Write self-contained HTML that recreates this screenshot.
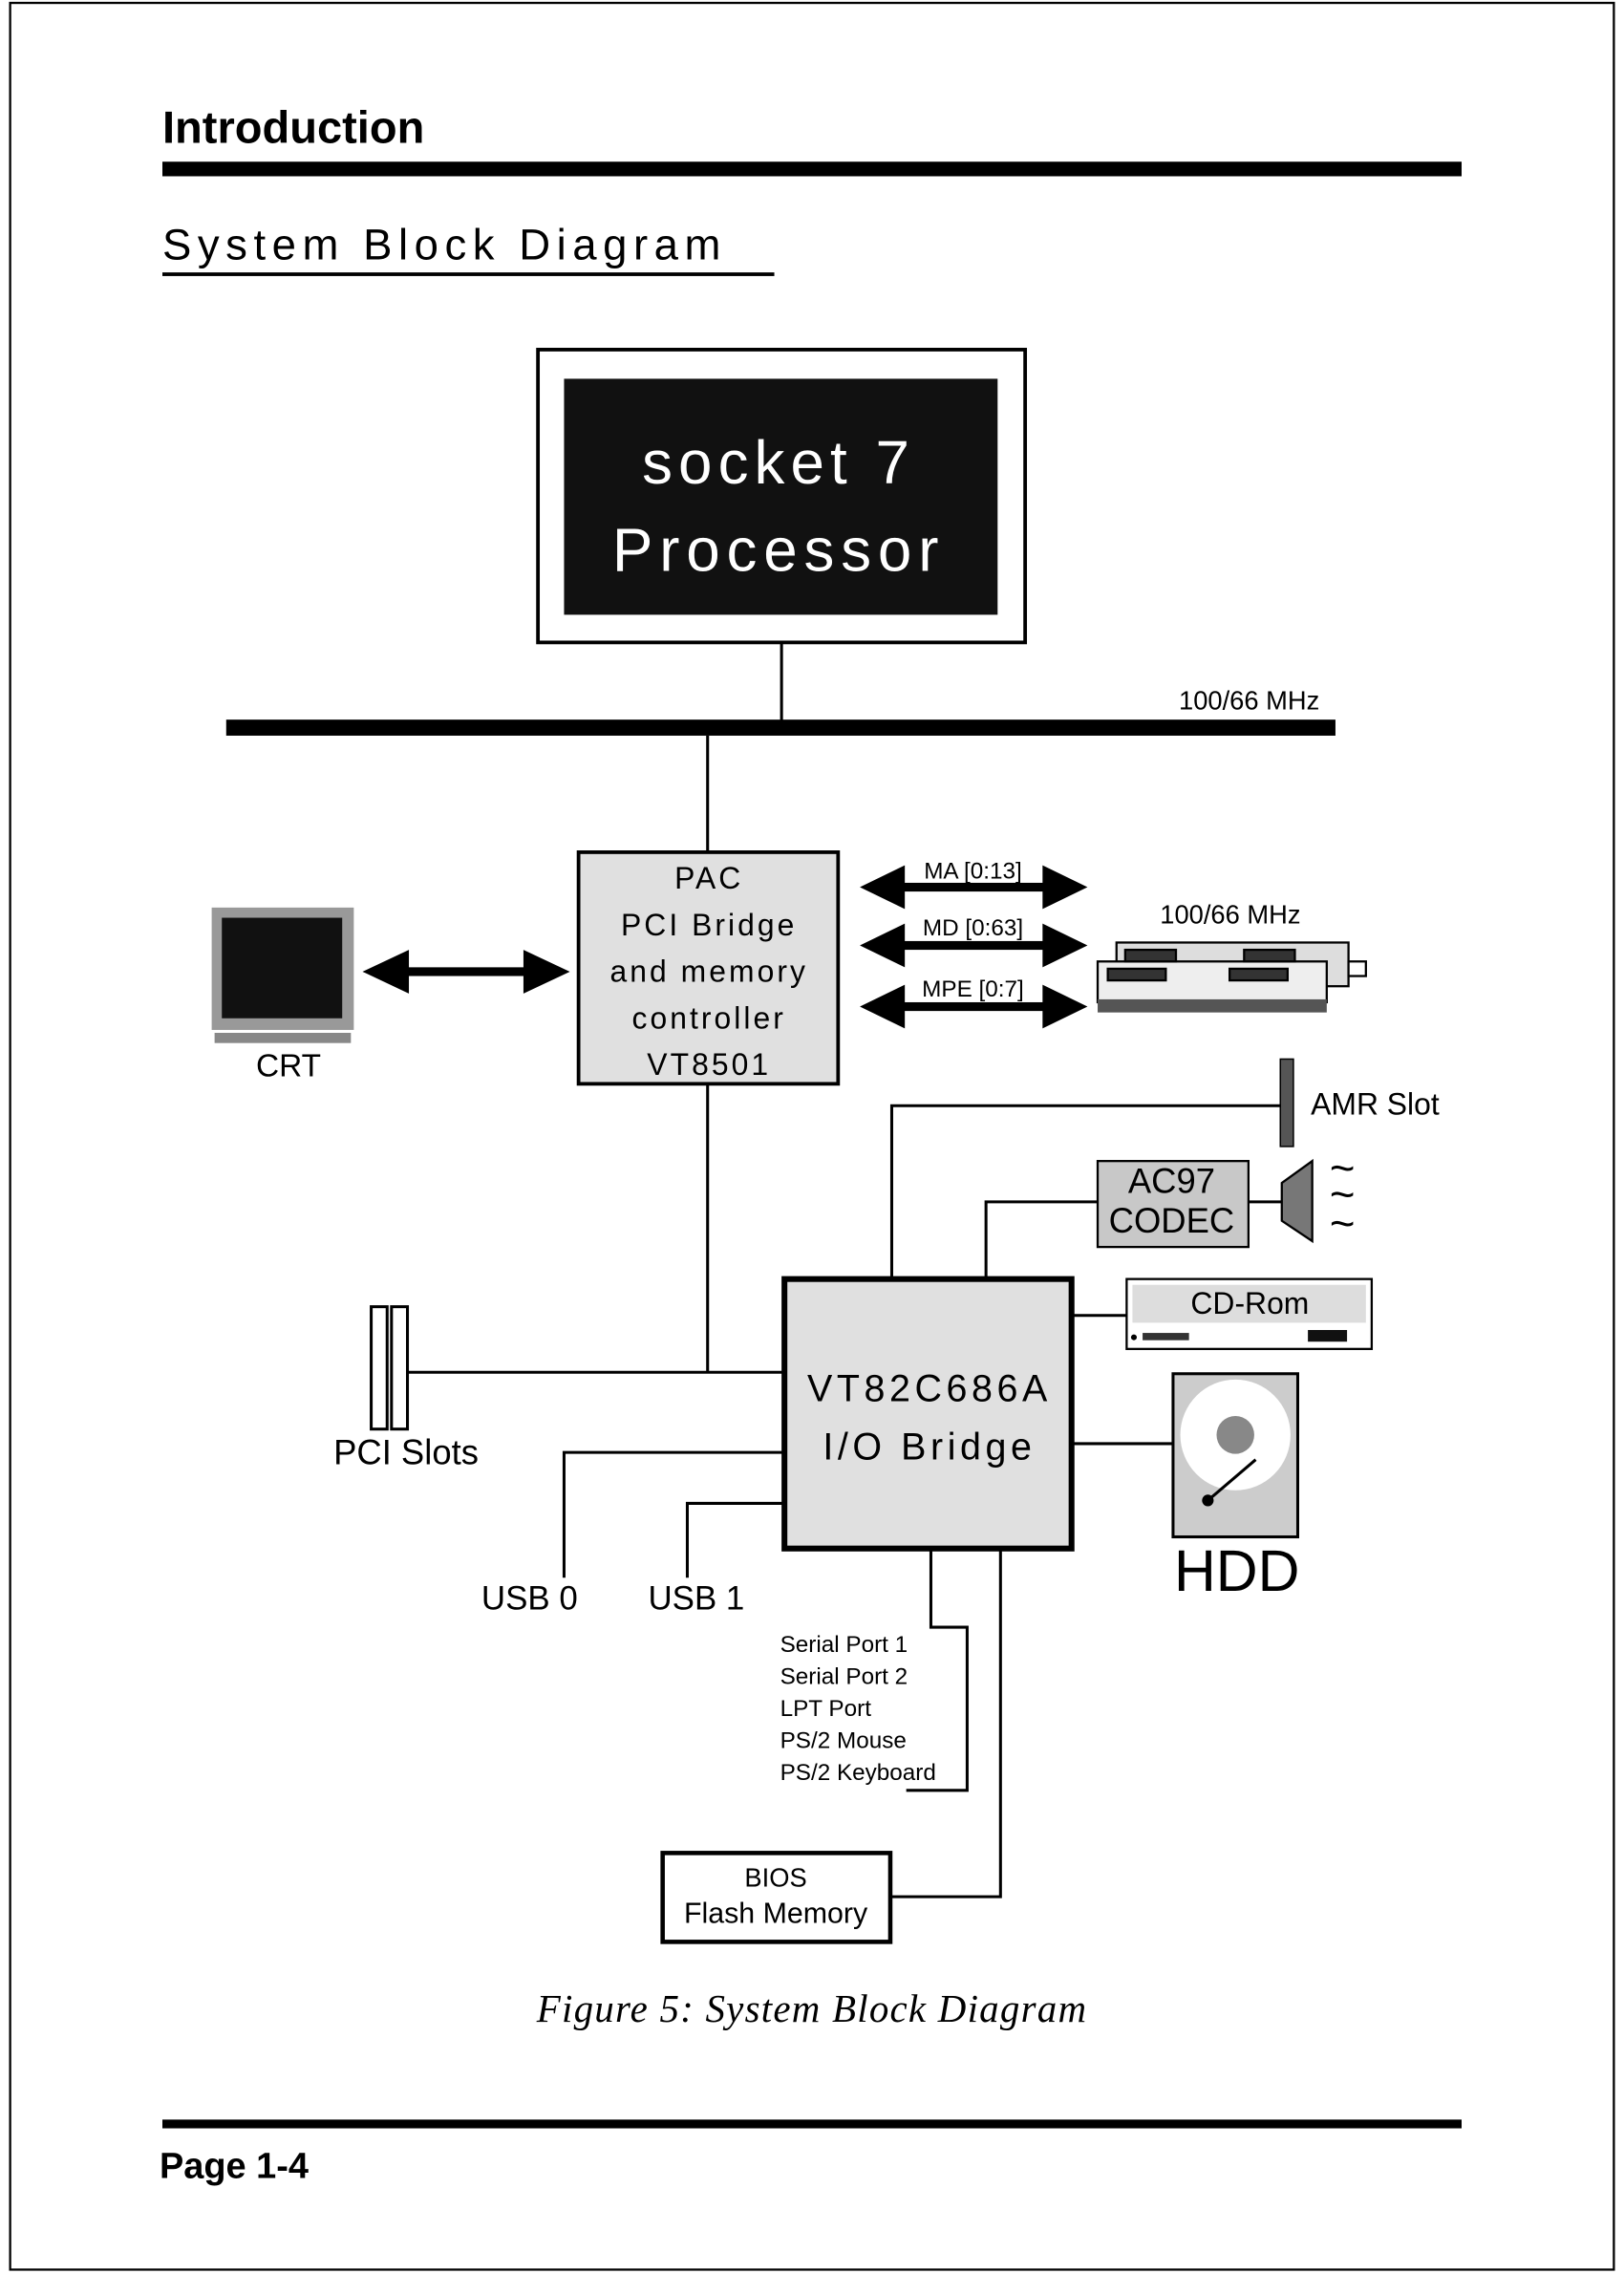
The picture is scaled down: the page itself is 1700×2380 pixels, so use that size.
<!DOCTYPE html>
<html><head><meta charset="utf-8"><style>
html,body{margin:0;padding:0;background:#fff}
svg{display:block}
text{font-family:"Liberation Sans",sans-serif}
</style></head><body>
<svg width="1700" height="2380" viewBox="0 0 1120 1561" preserveAspectRatio="none" xmlns="http://www.w3.org/2000/svg">
<rect x="7" y="2" width="1106" height="1556" fill="none" stroke="#000" stroke-width="1.5"/>
<text x="112" y="98" font-size="31" font-weight="bold">Introduction</text>
<rect x="112" y="111" width="896" height="10" fill="#000"/>
<text x="112" y="178" font-size="30" letter-spacing="4.3">System Block Diagram</text>
<rect x="112" y="187" width="422" height="2.5" fill="#000"/>

<rect x="371" y="240" width="336" height="201" fill="#fff" stroke="#000" stroke-width="2.5"/>
<rect x="389" y="260" width="299" height="162" fill="#111"/>
<text x="537" y="332" font-size="42" fill="#fff" text-anchor="middle" letter-spacing="4">socket 7</text>
<text x="537" y="392" font-size="42" fill="#fff" text-anchor="middle" letter-spacing="4.5">Processor</text>
<line x1="539" y1="441" x2="539" y2="495" stroke="#000" stroke-width="2"/>
<rect x="156" y="494" width="765" height="11" fill="#000"/>
<text x="813" y="487" font-size="18">100/66 MHz</text>
<line x1="488" y1="505" x2="488" y2="585" stroke="#000" stroke-width="2"/>

<rect x="399" y="585" width="179" height="159" fill="#e0e0e0" stroke="#000" stroke-width="2.5"/>
<g font-size="21" text-anchor="middle" letter-spacing="2">
<text x="489" y="610">PAC</text><text x="489" y="642">PCI Bridge</text><text x="489" y="674">and memory</text><text x="489" y="706">controller</text><text x="489" y="738">VT8501</text></g>
<line x1="488" y1="744" x2="488" y2="942" stroke="#000" stroke-width="2"/>

<rect x="146" y="623" width="98" height="84" fill="#999"/>
<rect x="153" y="630" width="83" height="69" fill="#111"/>
<rect x="148" y="709" width="94" height="7" fill="#888"/>
<text x="199" y="739" font-size="22" text-anchor="middle">CRT</text>
<g fill="#000">
<rect x="278" y="664" width="88" height="6"/>
<polygon points="250,667 282,652 282,682"/><polygon points="393,667 361,652 361,682"/>
<rect x="620" y="606" width="104" height="6"/><polygon points="593,609 624,594 624,624"/><polygon points="750,609 719,594 719,624"/>
<rect x="620" y="646" width="104" height="6"/><polygon points="593,649 624,634 624,664"/><polygon points="750,649 719,634 719,664"/>
<rect x="620" y="688" width="104" height="6"/><polygon points="593,691 624,676 624,706"/><polygon points="750,691 719,676 719,706"/>
</g>
<g font-size="16" text-anchor="middle"><text x="671" y="603">MA [0:13]</text><text x="671" y="642">MD [0:63]</text><text x="671" y="684">MPE [0:7]</text></g>
<text x="800" y="634" font-size="18">100/66 MHz</text>
<g stroke="#000" stroke-width="1.5">
<rect x="770" y="647" width="160" height="30" fill="#ddd"/>
<rect x="757" y="660" width="158" height="28" fill="#eee"/>
<rect x="776" y="652" width="35" height="8" fill="#333"/><rect x="858" y="652" width="35" height="8" fill="#333"/>
<rect x="764" y="665" width="40" height="8" fill="#333"/><rect x="848" y="665" width="40" height="8" fill="#333"/>
<rect x="930" y="660" width="12" height="10" fill="#fff"/>
</g>
<rect x="757" y="686" width="158" height="9" fill="#555"/>

<rect x="883" y="727" width="9" height="60" fill="#555" stroke="#000"/>
<text x="904" y="765" font-size="21">AMR Slot</text>
<polyline points="883,759 615,759 615,878" fill="none" stroke="#000" stroke-width="2"/>
<rect x="757" y="797" width="104" height="59" fill="#c8c8c8" stroke="#000" stroke-width="1.5"/>
<text x="808" y="819" font-size="24" text-anchor="middle">AC97</text>
<text x="808" y="846" font-size="24" text-anchor="middle">CODEC</text>
<polyline points="757,825 680,825 680,878" fill="none" stroke="#000" stroke-width="2"/>
<line x1="861" y1="825" x2="884" y2="825" stroke="#000" stroke-width="2"/>
<polygon points="884,812 884,838 905,852 905,797" fill="#777" stroke="#000" stroke-width="1.5"/>
<text x="917" y="812" font-size="30">~</text><text x="917" y="830" font-size="30">~</text><text x="917" y="850" font-size="30">~</text>

<rect x="541" y="878" width="198" height="185" fill="#e0e0e0" stroke="#000" stroke-width="4"/>
<text x="641" y="962" font-size="26" text-anchor="middle" letter-spacing="3">VT82C686A</text>
<text x="641" y="1002" font-size="26" text-anchor="middle" letter-spacing="3">I/O Bridge</text>

<rect x="777" y="878" width="169" height="48" fill="#fff" stroke="#000" stroke-width="1.5"/>
<rect x="781" y="882" width="161" height="26" fill="#ddd"/>
<text x="862" y="902" font-size="21" text-anchor="middle">CD-Rom</text>
<rect x="788" y="915" width="32" height="5" fill="#333"/><rect x="902" y="913" width="27" height="8" fill="#111"/>
<circle cx="782" cy="918" r="2" fill="#000"/>
<line x1="739" y1="903" x2="777" y2="903" stroke="#000" stroke-width="2"/>

<rect x="809" y="943" width="86" height="112" fill="#ccc" stroke="#000" stroke-width="2"/>
<circle cx="852" cy="985" r="38" fill="#fff"/><circle cx="852" cy="985" r="13" fill="#888"/>
<line x1="866" y1="1002" x2="833" y2="1030" stroke="#000" stroke-width="2"/><circle cx="833" cy="1030" r="4" fill="#000"/>
<text x="853" y="1092" font-size="40" text-anchor="middle">HDD</text>
<line x1="739" y1="991" x2="809" y2="991" stroke="#000" stroke-width="2"/>

<rect x="256" y="897" width="11" height="84" fill="#fff" stroke="#000" stroke-width="2"/>
<rect x="270" y="897" width="11" height="84" fill="#fff" stroke="#000" stroke-width="2"/>
<line x1="281" y1="942" x2="541" y2="942" stroke="#000" stroke-width="2"/>
<text x="230" y="1005" font-size="24">PCI Slots</text>
<polyline points="541,997 389,997 389,1083" fill="none" stroke="#000" stroke-width="2"/>
<polyline points="541,1032 474,1032 474,1083" fill="none" stroke="#000" stroke-width="2"/>
<text x="332" y="1105" font-size="23">USB 0</text>
<text x="447" y="1105" font-size="23">USB 1</text>

<polyline points="642,1063 642,1117 667,1117 667,1229 625,1229" fill="none" stroke="#000" stroke-width="2"/>
<g font-size="16"><text x="538" y="1134">Serial Port 1</text><text x="538" y="1156">Serial Port 2</text><text x="538" y="1178">LPT Port</text><text x="538" y="1200">PS/2 Mouse</text><text x="538" y="1222">PS/2 Keyboard</text></g>
<polyline points="690,1063 690,1302 614,1302" fill="none" stroke="#000" stroke-width="2"/>
<rect x="457" y="1272" width="157" height="61" fill="#fff" stroke="#000" stroke-width="3"/>
<text x="535" y="1295" font-size="18" text-anchor="middle">BIOS</text>
<text x="535" y="1320" font-size="20" text-anchor="middle">Flash Memory</text>

<text x="560" y="1388" font-size="27" font-style="italic" text-anchor="middle" letter-spacing="0.8" style="font-family:'Liberation Serif',serif">Figure 5:  System Block Diagram</text>
<rect x="112" y="1455" width="896" height="6" fill="#000"/>
<text x="110" y="1495" font-size="25" font-weight="bold">Page 1-4</text>
</svg>
</body></html>
